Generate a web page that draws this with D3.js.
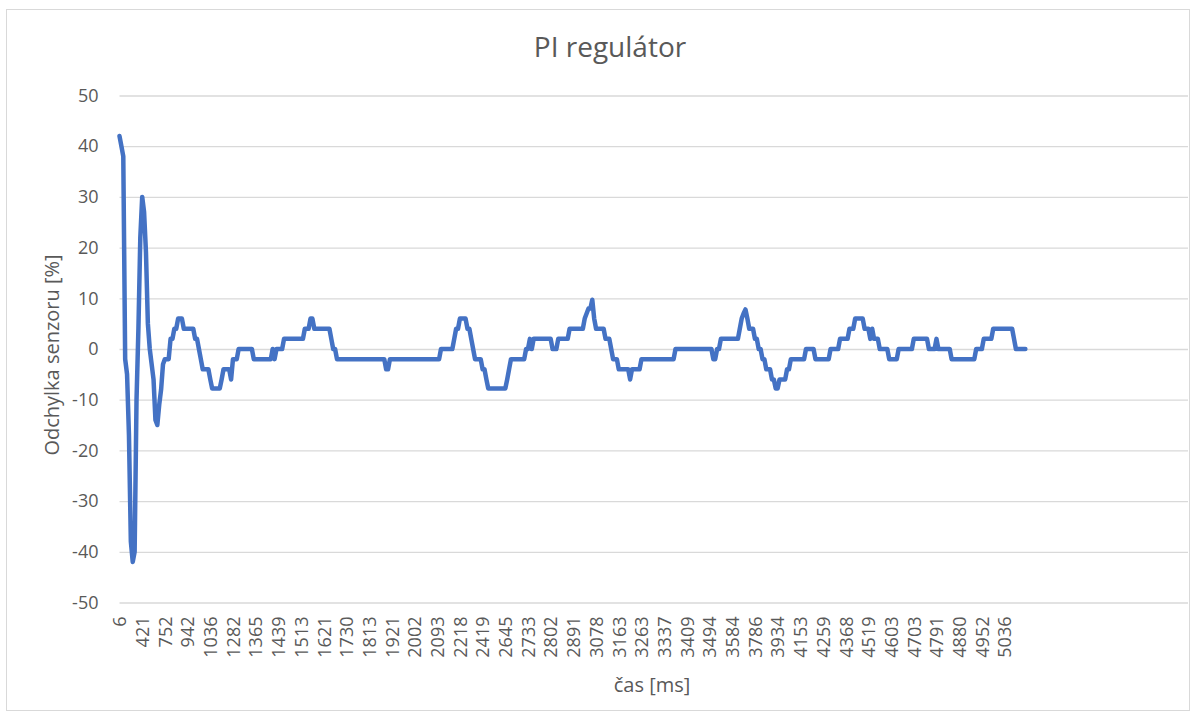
<!DOCTYPE html>
<html><head><meta charset="utf-8">
<script src="https://cdn.jsdelivr.net/npm/d3@7"></script>
<style>body{margin:0;background:#fff}svg{display:block}</style>
</head><body><svg id="c" width="1196" height="720"></svg>
<script>
// ---- data ----
const chartTitle = "PI regulátor";
const xTitle = "čas [ms]";
const yTitle = "Odchylka senzoru [%]";
const tickLabels = ["6","421","752","942","1036","1282","1365","1439","1513","1621","1730","1813","1921","2002","2093","2218","2419","2645","2733","2802","2891","3078","3163","3263","3337","3409","3494","3584","3786","3934","4153","4259","4368","4519","4603","4703","4791","4880","4952","5036"];
const labelStep = 12;          // one label every 12 categories
const totalCategories = 566;   // includes empty categories after the data
const yTicks = [-50,-40,-30,-20,-10,0,10,20,30,40,50];
const values = [
 42,40,38,-2,-5,-17,-38,-42,-40,-10,4,22,30,27,19,5,0,-3,-6,-14,-15,-11,-8,-3,-2,-2,
 -2,2,2,4,4,6,6,6,4,4,4,4,4,4,2,2,0,-2,-4,-4,-4,-4,-6,-7.8,-7.8,-7.8,-7.8,-7.8,-6,-4,-4,-4,-4,-6,-2,-2,-2,0,
 0,0,0,0,0,0,0,-2,-2,-2,-2,-2,-2,-2,-2,-2,-2,0,-2,0,0,0,0,
 2,2,2,2,2,2,2,2,2,2,2,4,4,4,6,6,4,4,4,4,4,4,4,4,4,2,0,0,
 -2,-2,-2,-2,-2,-2,-2,-2,-2,-2,-2,-2,-2,-2,-2,-2,-2,-2,-2,-2,-2,-2,-2,-2,-2,-2,-4,-4,
 -2,-2,-2,-2,-2,-2,-2,-2,-2,-2,-2,-2,-2,-2,-2,-2,-2,-2,-2,-2,-2,-2,-2,-2,-2,-2,-2,0,0,0,0,0,0,0,
 2,4,4,6,6,6,6,4,4,2,0,-2,-2,-2,-2,-4,-4,-6,-7.8,-7.8,-7.8,-7.8,-7.8,-7.8,-7.8,-7.8,-7.8,-7.8,-6,-4,
 -2,-2,-2,-2,-2,-2,-2,-2,0,0,2,0,2,2,2,2,2,2,2,2,2,2,0,0,0,2,2,2,2,2,2,
 4,4,4,4,4,4,4,4,6,7,8,8,9.7,6,4,4,4,4,4,2,2,2,0,-2,-2,-2,-4,-4,-4,-4,-4,-4,-6,-4,-4,-4,-4,-4,
 -2,-2,-2,-2,-2,-2,-2,-2,-2,-2,-2,-2,-2,-2,-2,-2,-2,-2,0,0,0,0,0,0,0,0,0,0,0,0,0,0,0,0,0,0,0,0,-2,-2,0,0,
 2,2,2,2,2,2,2,2,2,2,4,6,7,7.8,6,4,4,4,2,2,0,0,-2,-2,-4,-4,-4,-6,-6,-7.8,-7.8,-6,-6,-6,-6,-4,-4,
 -2,-2,-2,-2,-2,-2,-2,-2,0,0,0,0,0,-2,-2,-2,-2,-2,-2,-2,-2,0,0,0,0,0,2,2,2,2,2,4,4,4,6,6,6,6,6,4,4,4,2,4,2,2,2,
 0,0,0,0,0,-2,-2,-2,-2,-2,0,0,0,0,0,0,0,0,2,2,2,2,2,2,2,2,0,0,0,0,2,0,0,0,0,0,0,0,
 -2,-2,-2,-2,-2,-2,-2,-2,-2,-2,-2,-2,-2,0,0,0,0,2,2,2,2,2,4,4,4,4,4,4,4,4,4,4,4,2,0,0,0,0,0,0
];

// ---- layout ----
const svg = d3.select("#c");
const plot = {left:119.5, right:1188, top:95.5, bottom:602.5};
const grey = "#595959", gridCol = "#d9d9d9";
const font = "'Open Sans', 'Noto Sans', sans-serif";

svg.append("rect").attr("x",6.5).attr("y",9.5).attr("width",1183).attr("height",701)
  .attr("fill","#fff").attr("stroke",gridCol).attr("stroke-width",1);

const x = d3.scaleLinear().domain([0, totalCategories-1]).range([plot.left, plot.right]);
const y = d3.scaleLinear().domain([-50,50]).range([plot.bottom, plot.top]);

// y axis + gridlines
const yAxis = svg.append("g").attr("transform",`translate(${plot.left},0)`)
  .call(d3.axisLeft(y).tickValues(yTicks).tickSize(-(plot.right-plot.left)).tickPadding(21).tickFormat(d=>String(d)));
yAxis.select(".domain").remove();
yAxis.selectAll("line").attr("stroke",gridCol).attr("stroke-width",1.3);
yAxis.selectAll("text").attr("fill",grey).style("font-family",font).style("font-size","18px");

// x axis labels
const tickIdx = tickLabels.map((_,k)=>k*labelStep);
const xAxis = svg.append("g").attr("transform",`translate(0,${plot.bottom})`)
  .call(d3.axisBottom(x).tickValues(tickIdx).tickSize(0).tickFormat((d,i)=>tickLabels[i]));
xAxis.select(".domain").remove();
xAxis.selectAll("text")
  .attr("fill",grey).style("font-family",font).style("font-size","18px")
  .attr("transform","rotate(-90)").attr("text-anchor","end")
  .attr("x",-14).attr("y",0).attr("dy","0.35em");

// line
const line = d3.line().x((d,i)=>x(i)).y(d=>y(d)).curve(d3.curveLinear);
svg.append("path").datum(values).attr("d",line)
  .attr("fill","none").attr("stroke","#4472c4").attr("stroke-width",4.5)
  .attr("stroke-linejoin","round").attr("stroke-linecap","round");

// titles
svg.append("text").attr("x",610).attr("y",57).attr("text-anchor","middle")
  .attr("fill",grey).style("font-family",font).style("font-size","28px").text(chartTitle);
svg.append("text").attr("x",652).attr("y",692).attr("text-anchor","middle")
  .attr("fill",grey).style("font-family",font).style("font-size","20px").text(xTitle);
svg.append("text").attr("transform","translate(52,355) rotate(-90)").attr("text-anchor","middle")
  .attr("dy","0.35em")
  .attr("fill",grey).style("font-family",font).style("font-size","20px").text(yTitle);
</script>
</body></html>
